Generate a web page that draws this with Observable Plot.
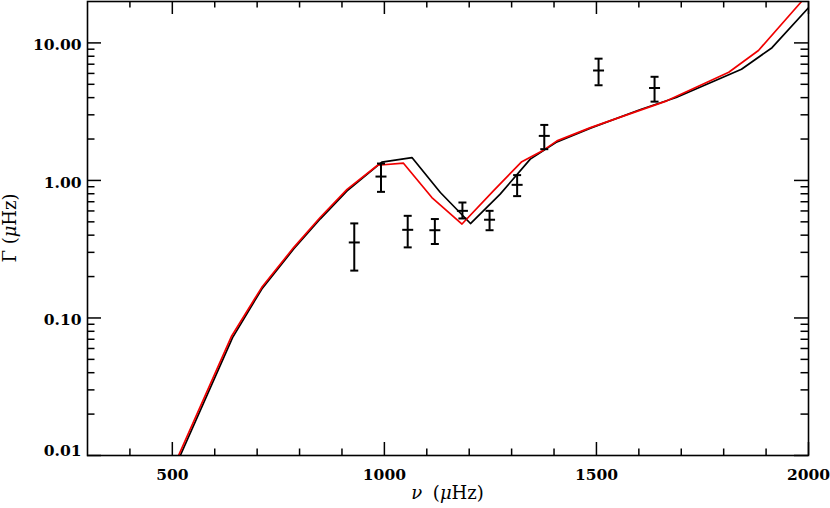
<!DOCTYPE html>
<html><head><meta charset="utf-8">
<script src="https://cdn.jsdelivr.net/npm/d3@7"></script>
<script src="https://cdn.jsdelivr.net/npm/@observablehq/plot@0.6"></script>
<style>body{margin:0;background:#fff}</style>
</head><body><div id="chart"></div>
<script>
// Model 1 (black)
const modelA_nu    = [500, 642, 711, 786, 849, 912, 994, 1065, 1132, 1203, 1273, 1344, 1407, 1486, 1604, 1688, 1842, 1914, 2000];
const modelA_gamma = [0.0074, 0.072, 0.1625, 0.317, 0.526, 0.84, 1.36, 1.467, 0.817, 0.486, 0.795, 1.428, 1.906, 2.40, 3.28, 4.01, 6.43, 9.23, 18.0];
// Model 2 (red)
const modelB_nu    = [500, 640, 711, 786, 849, 912, 984, 1045, 1112, 1183, 1257, 1324, 1375, 1407, 1486, 1666, 1812, 1882, 1981, 2000];
const modelB_gamma = [0.0079, 0.074, 0.167, 0.325, 0.54, 0.86, 1.29, 1.335, 0.751, 0.482, 0.84, 1.37, 1.66, 1.94, 2.42, 3.79, 6.12, 8.81, 19.6, 22.8];
// Observed linewidths with error bars
const obs_nu    = [929, 992, 1055, 1119, 1184, 1248, 1313, 1377, 1505, 1637];
const obs_gamma = [0.354, 1.067, 0.4375, 0.4345, 0.601, 0.518, 0.929, 2.108, 6.30, 4.70];
const obs_lo    = [0.221, 0.826, 0.326, 0.345, 0.529, 0.4345, 0.769, 1.688, 4.92, 3.74];
const obs_hi    = [0.487, 1.327, 0.553, 0.524, 0.691, 0.601, 1.093, 2.533, 7.68, 5.67];
// Ticks
const xMajorTicks = [500, 1000, 1500, 2000];
const xTickLabels = ["500", "1000", "1500", "2000"];
const xMinorTicks = [400, 600, 700, 800, 900, 1100, 1200, 1300, 1400, 1600, 1700, 1800, 1900];
const yMajorTicks = [0.01, 0.1, 1, 10];
const yTickLabels = ["0.01", "0.10", "1.00", "10.00"];
const yMinorMultipliers = [2, 3, 4, 5, 6, 7, 8, 9];

const W = 830, H = 508, mL = 87, mR = 22, mT = 1, mB = 53;
const pw = W - mL - mR, ph = H - mT - mB;
const majorLen = 14, minorLen = 7.5;
const FONT = "DejaVu Serif";

const yMinorTicks = [];
for (const dec of yMajorTicks) for (const m of yMinorMultipliers) {
  const v = +(m * dec).toPrecision(3);
  if (v < 20) yMinorTicks.push(v);
}

const lineA = modelA_nu.map((nu, i) => ({nu, g: modelA_gamma[i]}));
const lineB = modelB_nu.map((nu, i) => ({nu, g: modelB_gamma[i]}));
const obs = obs_nu.map((nu, i) => ({nu, g: obs_gamma[i], lo: obs_lo[i], hi: obs_hi[i]}));

const hbar = {draw(ctx, size) { const r = Math.sqrt(size / Math.PI); ctx.moveTo(-r, 0); ctx.lineTo(r, 0); }};
const yLab = (d) => yTickLabels[yMajorTicks.indexOf(d)];

const chart = Plot.plot({
  width: W, height: H,
  marginLeft: mL, marginRight: mR, marginTop: mT, marginBottom: mB,
  style: {fontFamily: FONT, fontSize: "15.5px", background: "white", color: "black", overflow: "visible"},
  x: {domain: [300, 2000], axis: null},
  y: {type: "log", domain: [0.01, 20], axis: null},
  marks: [
    // ticks (inward, on all four sides)
    Plot.tickY(yMajorTicks, {y: d => d, insetRight: pw - majorLen, stroke: "black", strokeWidth: 1.5}),
    Plot.tickY(yMajorTicks, {y: d => d, insetLeft: pw - majorLen, stroke: "black", strokeWidth: 1.5}),
    Plot.tickY(yMinorTicks, {y: d => d, insetRight: pw - minorLen, stroke: "black", strokeWidth: 1.5}),
    Plot.tickY(yMinorTicks, {y: d => d, insetLeft: pw - minorLen, stroke: "black", strokeWidth: 1.5}),
    Plot.tickX(xMajorTicks, {x: d => d, insetTop: ph - 13, stroke: "black", strokeWidth: 1.5}),
    Plot.tickX(xMajorTicks, {x: d => d, insetBottom: ph - 13, stroke: "black", strokeWidth: 1.5}),
    Plot.tickX(xMinorTicks, {x: d => d, insetTop: ph - 6.5, stroke: "black", strokeWidth: 1.5}),
    Plot.tickX(xMinorTicks, {x: d => d, insetBottom: ph - 6.5, stroke: "black", strokeWidth: 1.5}),
    // tick labels
    Plot.text(yMajorTicks.filter(d => d > 0.01), {y: d => d, text: yLab, frameAnchor: "left", textAnchor: "end", lineAnchor: "middle", dx: -6, dy: 2.5, fill: "black", fontWeight: "bold"}),
    Plot.text(yMajorTicks.filter(d => d === 0.01), {y: d => d, text: yLab, frameAnchor: "left", textAnchor: "end", lineAnchor: "middle", dx: -6, dy: -4, fill: "black", fontWeight: "bold"}),
    Plot.text(xMajorTicks, {x: d => d, text: (d, i) => xTickLabels[i], frameAnchor: "bottom", lineAnchor: "middle", dy: 20, fill: "black", fontWeight: "bold"}),
    // models
    Plot.line(lineA, {x: "nu", y: "g", stroke: "black", strokeWidth: 1.7, clip: true}),
    Plot.line(lineB, {x: "nu", y: "g", stroke: "#f00000", strokeWidth: 1.7, clip: true}),
    // observations
    Plot.ruleX(obs, {x: "nu", y1: "lo", y2: "hi", stroke: "black", strokeWidth: 2}),
    Plot.dot(obs, {x: "nu", y: "lo", symbol: hbar, r: 4, stroke: "black", fill: "none", strokeWidth: 2}),
    Plot.dot(obs, {x: "nu", y: "hi", symbol: hbar, r: 4, stroke: "black", fill: "none", strokeWidth: 2}),
    Plot.dot(obs, {x: "nu", y: "g", symbol: hbar, r: 5.5, stroke: "black", fill: "none", strokeWidth: 2}),
    Plot.frame({stroke: "black", strokeWidth: 1.6})
  ]
});

document.getElementById("chart").appendChild(chart);

// Axis titles with mixed italic
const svg = d3.select(chart);
const xt = svg.append("text")
  .attr("x", mL + pw / 2).attr("y", 499)
  .attr("text-anchor", "middle").attr("font-family", FONT).attr("font-size", 18).attr("fill", "black");
xt.append("tspan").attr("font-style", "italic").text("ν");
xt.append("tspan").attr("dx", 5).text(" (");
xt.append("tspan").attr("font-style", "italic").text("μ");
xt.append("tspan").text("Hz)");

const yt = svg.append("text")
  .attr("transform", `translate(16,${mT + ph / 2}) rotate(-90)`)
  .attr("text-anchor", "middle").attr("font-family", FONT).attr("font-size", 18).attr("fill", "black");
yt.append("tspan").text("Γ (");
yt.append("tspan").attr("font-style", "italic").text("μ");
yt.append("tspan").text("Hz)");
</script>
</body></html>
